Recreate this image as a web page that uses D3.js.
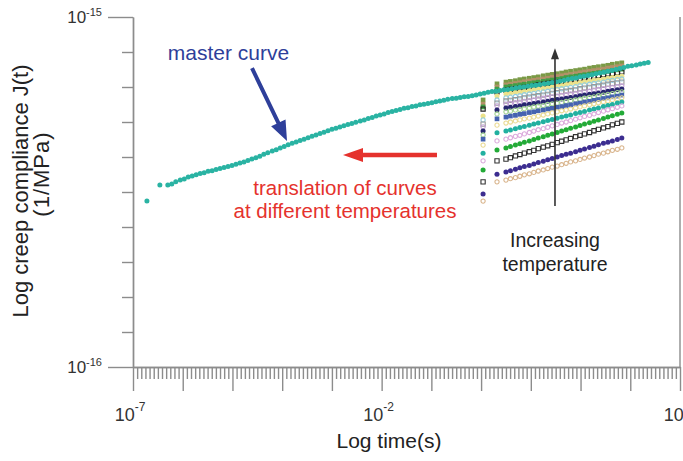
<!DOCTYPE html>
<html><head><meta charset="utf-8">
<script src="https://cdn.jsdelivr.net/npm/d3@7"></script>
<style>
body{margin:0;background:#fff;}
svg{display:block;}
text{font-family:"Liberation Sans",Arial,Helvetica,sans-serif;}
</style>
</head><body>
<svg id="chart" width="683" height="461"></svg>
<script>
// ---------- DATA (log10 values) ----------
// axis decades
const xDecades = [-7,-6,-5,-4,-3,-2,-1,0,1,2,3,4];
const yDecades = [-16,-15];
const xLabelDecades = [-7,-2,4];
const xLabelExps = ["-7","-2","4"];
const yLabelExps = ["-16","-15"];

// master curve: log10 time (s), log10 J (1/MPa)
const masterLogTime = [-6.72,-6.46,-6.30,-6.22,-6.14,-6.05,-5.97,-5.89,-5.81,-5.73,
-5.65,-5.57,-5.49,-5.41,-5.33,-5.25,-5.17,-5.09,-5.01,-4.93,
-4.85,-4.77,-4.69,-4.61,-4.53,-4.45,-4.37,-4.29,-4.20,-4.12,
-4.04,-3.96,-3.88,-3.80,-3.72,-3.64,-3.56,-3.48,-3.40,-3.32,
-3.24,-3.16,-3.08,-3.00,-2.92,-2.84,-2.76,-2.68,-2.60,-2.52,
-2.43,-2.35,-2.27,-2.19,-2.11,-2.03,-1.95,-1.87,-1.79,-1.71,
-1.63,-1.55,-1.47,-1.39,-1.31,-1.23,-1.15,-1.07,-0.99,-0.91,
-0.83,-0.75,-0.67,-0.58,-0.50,-0.42,-0.34,-0.26,-0.18,-0.10,
-0.02,0.06,0.14,0.22,0.30,0.38,0.46,0.54,0.62,0.70,
0.78,0.86,0.94,1.02,1.10,1.18,1.27,1.35,1.43,1.51,
1.59,1.67,1.75,1.83,1.91,1.99,2.07,2.15,2.23,2.31,
2.39,2.47,2.55,2.63,2.71,2.79,2.87,2.95,3.03,3.12,
3.20,3.28,3.36];
const masterLogJ = [-15.526,-15.480,-15.480,-15.477,-15.471,-15.466,-15.463,-15.457,-15.454,-15.451,
-15.447,-15.445,-15.441,-15.439,-15.436,-15.433,-15.430,-15.427,-15.424,-15.421,
-15.417,-15.414,-15.410,-15.406,-15.402,-15.398,-15.392,-15.388,-15.383,-15.379,
-15.374,-15.370,-15.365,-15.361,-15.357,-15.353,-15.349,-15.345,-15.341,-15.337,
-15.333,-15.329,-15.325,-15.321,-15.318,-15.314,-15.311,-15.307,-15.304,-15.301,
-15.297,-15.294,-15.290,-15.287,-15.283,-15.280,-15.277,-15.273,-15.270,-15.267,
-15.264,-15.261,-15.259,-15.256,-15.254,-15.251,-15.249,-15.247,-15.245,-15.242,
-15.240,-15.238,-15.235,-15.233,-15.232,-15.230,-15.228,-15.227,-15.225,-15.223,
-15.220,-15.218,-15.215,-15.213,-15.212,-15.210,-15.208,-15.207,-15.205,-15.203,
-15.201,-15.200,-15.198,-15.196,-15.195,-15.193,-15.191,-15.189,-15.187,-15.185,
-15.183,-15.181,-15.178,-15.176,-15.174,-15.171,-15.169,-15.167,-15.165,-15.162,
-15.160,-15.158,-15.155,-15.153,-15.150,-15.147,-15.144,-15.141,-15.139,-15.137,
-15.134,-15.132,-15.130];

// short-term creep tests at different temperatures (shared measurement times)
const testLogTime = [0.04,0.32,0.50,0.59,0.69,0.78,0.87,0.97,1.06,1.15,1.25,1.34,1.43,1.53,1.62,1.71,1.80,1.90,1.99,2.08,2.18,2.27,2.36,2.46,2.55,2.64,2.74,2.83];
const t01 = [-15.237,-15.191,-15.186,-15.184,-15.182,-15.179,-15.177,-15.175,-15.173,-15.171,-15.168,-15.166,-15.164,-15.162,-15.160,-15.157,-15.155,-15.153,-15.151,-15.149,-15.146,-15.144,-15.142,-15.140,-15.138,-15.135,-15.133,-15.131];
const t02 = [-15.249,-15.200,-15.194,-15.192,-15.190,-15.188,-15.185,-15.183,-15.181,-15.179,-15.177,-15.175,-15.172,-15.170,-15.168,-15.166,-15.164,-15.162,-15.159,-15.157,-15.155,-15.153,-15.151,-15.149,-15.146,-15.144,-15.142,-15.140];
const t03 = [-15.257,-15.206,-15.200,-15.198,-15.196,-15.194,-15.192,-15.190,-15.188,-15.186,-15.184,-15.182,-15.180,-15.178,-15.176,-15.173,-15.171,-15.169,-15.167,-15.165,-15.163,-15.161,-15.159,-15.157,-15.155,-15.153,-15.151,-15.149];
const t04 = [-15.263,-15.214,-15.209,-15.207,-15.205,-15.203,-15.201,-15.199,-15.197,-15.194,-15.192,-15.190,-15.188,-15.186,-15.184,-15.182,-15.180,-15.178,-15.176,-15.174,-15.172,-15.169,-15.167,-15.165,-15.163,-15.161,-15.159,-15.157];
const t05 = [-15.283,-15.226,-15.220,-15.218,-15.216,-15.214,-15.212,-15.210,-15.208,-15.206,-15.204,-15.202,-15.200,-15.198,-15.196,-15.193,-15.191,-15.189,-15.187,-15.185,-15.183,-15.181,-15.179,-15.177,-15.175,-15.173,-15.171,-15.169];
const t06 = [-15.294,-15.237,-15.231,-15.229,-15.227,-15.225,-15.222,-15.220,-15.218,-15.216,-15.214,-15.212,-15.209,-15.207,-15.205,-15.203,-15.201,-15.199,-15.196,-15.194,-15.192,-15.190,-15.188,-15.186,-15.183,-15.181,-15.179,-15.177];
const t07 = [-15.306,-15.246,-15.240,-15.238,-15.236,-15.234,-15.231,-15.229,-15.227,-15.225,-15.223,-15.221,-15.218,-15.216,-15.214,-15.212,-15.210,-15.208,-15.205,-15.203,-15.201,-15.199,-15.197,-15.195,-15.192,-15.190,-15.188,-15.186];
const t08 = [-15.314,-15.254,-15.249,-15.247,-15.245,-15.243,-15.241,-15.239,-15.237,-15.234,-15.232,-15.230,-15.228,-15.226,-15.224,-15.222,-15.220,-15.218,-15.216,-15.214,-15.212,-15.209,-15.207,-15.205,-15.203,-15.201,-15.199,-15.197];
const t09 = [-15.326,-15.266,-15.260,-15.258,-15.256,-15.254,-15.251,-15.249,-15.247,-15.245,-15.243,-15.241,-15.238,-15.236,-15.234,-15.232,-15.230,-15.228,-15.225,-15.223,-15.221,-15.219,-15.217,-15.215,-15.212,-15.210,-15.208,-15.206];
const t10 = [-15.337,-15.277,-15.271,-15.269,-15.266,-15.264,-15.262,-15.260,-15.257,-15.255,-15.253,-15.250,-15.248,-15.246,-15.244,-15.241,-15.239,-15.237,-15.235,-15.232,-15.230,-15.228,-15.225,-15.223,-15.221,-15.219,-15.216,-15.214];
const t11 = [-15.349,-15.291,-15.286,-15.283,-15.281,-15.278,-15.276,-15.273,-15.271,-15.268,-15.266,-15.263,-15.261,-15.258,-15.256,-15.253,-15.251,-15.248,-15.246,-15.243,-15.241,-15.238,-15.236,-15.233,-15.231,-15.228,-15.226,-15.223];
const t12 = [-15.366,-15.309,-15.303,-15.300,-15.297,-15.294,-15.291,-15.289,-15.286,-15.283,-15.280,-15.277,-15.274,-15.271,-15.268,-15.266,-15.263,-15.260,-15.257,-15.254,-15.251,-15.248,-15.245,-15.243,-15.240,-15.237,-15.234,-15.231];
const t13 = [-15.389,-15.331,-15.326,-15.323,-15.319,-15.316,-15.313,-15.309,-15.306,-15.303,-15.299,-15.296,-15.293,-15.289,-15.286,-15.283,-15.280,-15.276,-15.273,-15.270,-15.266,-15.263,-15.260,-15.256,-15.253,-15.250,-15.246,-15.243];
const t14 = [-15.411,-15.354,-15.349,-15.345,-15.341,-15.338,-15.334,-15.330,-15.326,-15.322,-15.319,-15.315,-15.311,-15.307,-15.303,-15.300,-15.296,-15.292,-15.288,-15.284,-15.281,-15.277,-15.273,-15.269,-15.265,-15.262,-15.258,-15.254];
const t15 = [-15.437,-15.380,-15.374,-15.370,-15.366,-15.362,-15.358,-15.354,-15.350,-15.346,-15.342,-15.338,-15.334,-15.330,-15.326,-15.322,-15.318,-15.314,-15.310,-15.306,-15.302,-15.298,-15.294,-15.290,-15.286,-15.282,-15.278,-15.274];
const t16 = [-15.471,-15.411,-15.406,-15.402,-15.397,-15.393,-15.389,-15.385,-15.381,-15.376,-15.372,-15.368,-15.364,-15.359,-15.355,-15.351,-15.347,-15.342,-15.338,-15.334,-15.330,-15.325,-15.321,-15.317,-15.313,-15.308,-15.304,-15.300];
const t17 = [-15.506,-15.449,-15.443,-15.439,-15.435,-15.431,-15.427,-15.424,-15.420,-15.416,-15.412,-15.408,-15.404,-15.400,-15.396,-15.392,-15.389,-15.385,-15.381,-15.377,-15.373,-15.369,-15.365,-15.361,-15.358,-15.354,-15.350,-15.346];
const t18 = [-15.526,-15.471,-15.466,-15.462,-15.459,-15.455,-15.451,-15.448,-15.444,-15.440,-15.437,-15.433,-15.429,-15.426,-15.422,-15.418,-15.414,-15.411,-15.407,-15.403,-15.400,-15.396,-15.392,-15.389,-15.385,-15.381,-15.378,-15.374];
const testSeries = [t01,t02,t03,t04,t05,t06,t07,t08,t09,t10,t11,t12,t13,t14,t15,t16,t17,t18];

// ---------- STYLES ----------
const seriesStyle = [
 {shape:"sq", fill:"#7a9a46", stroke:"none"},
 {shape:"sq", fill:"#b39068", stroke:"none"},
 {shape:"sq", fill:"#3f9e45", stroke:"none"},
 {shape:"sq", fill:"none", stroke:"#222"},
 {shape:"ci", fill:"#ece28a", stroke:"none"},
 {shape:"ci", fill:"none", stroke:"#92cde0"},
 {shape:"sq", fill:"none", stroke:"#9a9a9a"},
 {shape:"ci", fill:"none", stroke:"#c3a2d6"},
 {shape:"ci", fill:"#27276f", stroke:"none"},
 {shape:"ci", fill:"none", stroke:"#a3d494"},
 {shape:"sq", fill:"#4563b0", stroke:"none"},
 {shape:"ci", fill:"none", stroke:"#eadb95"},
 {shape:"ci", fill:"#22b0a0", stroke:"none"},
 {shape:"ci", fill:"none", stroke:"#dcaadc"},
 {shape:"ci", fill:"#23aa37", stroke:"none"},
 {shape:"sq", fill:"none", stroke:"#333"},
 {shape:"ci", fill:"#3c2d90", stroke:"none"},
 {shape:"ci", fill:"none", stroke:"#d9b58d"}
];

const svg = d3.select("#chart");
const x = d3.scaleLinear().domain([-7, 4]).range([133, 680]);
const y = d3.scaleLinear().domain([-16, -15]).range([367, 17]);
const axisColor = "#8c8c8c";

// ---------- AXES ----------
const xMinor = [];
xDecades.slice(0,-1).forEach(d => { for (let k = 1; k < 12; k++) xMinor.push(d + k/12); });
const yMinor = [];
for (let k = 1; k < 10; k++) yMinor.push(-16 + k/10);

function styleAxis(g){
  g.selectAll("path.domain").attr("stroke", axisColor).attr("stroke-width",1.4);
  g.selectAll(".tick line").attr("stroke", axisColor).attr("stroke-width",1.4);
  g.selectAll(".tick text").remove();
}
svg.append("g").attr("transform","translate(0,"+y(-16)+")")
  .call(d3.axisBottom(x).tickValues(xMinor).tickSize(12).tickSizeOuter(0).tickFormat(""))
  .call(styleAxis);
svg.append("g").attr("transform","translate(0,"+y(-16)+")")
  .call(d3.axisBottom(x).tickValues(xDecades).tickSize(24).tickSizeOuter(0).tickFormat(""))
  .call(styleAxis);
svg.append("g").attr("transform","translate("+x(-7)+",0)")
  .call(d3.axisLeft(y).tickValues(yMinor).tickSize(11).tickSizeOuter(0).tickFormat(""))
  .call(styleAxis);
svg.append("g").attr("transform","translate("+x(-7)+",0)")
  .call(d3.axisLeft(y).tickValues(yDecades).tickSize(25).tickSizeOuter(0).tickFormat(""))
  .call(styleAxis);
// right frame line
svg.append("line").attr("x1",x(4)).attr("x2",x(4)).attr("y1",y(-15)).attr("y2",y(-16))
  .attr("stroke",axisColor).attr("stroke-width",1.4);

// tick labels
xLabelDecades.forEach((v,i) => {
  const t = svg.append("text").attr("x", x(v)-3).attr("y", 421).attr("text-anchor","middle")
    .attr("fill","#333").style("font-size","18px");
  t.append("tspan").text("10");
  t.append("tspan").attr("dy",-10).style("font-size","12px").text(xLabelExps[i]);
});
yDecades.forEach((v,i) => {
  const t = svg.append("text").attr("x", 102).attr("y", y(v)+6).attr("text-anchor","end")
    .attr("fill","#333").style("font-size","17px");
  t.append("tspan").text("10");
  t.append("tspan").attr("dy",-7).style("font-size","11px").text(yLabelExps[i]);
});

// axis titles
svg.append("text").attr("x",389).attr("y",448).attr("text-anchor","middle")
  .attr("fill","#222").style("font-size","21px").text("Log time(s)");
svg.append("text").attr("transform","translate(28,191) rotate(-90)").attr("text-anchor","middle")
  .attr("fill","#222").style("font-size","22px").text("Log creep compliance J(t)");
svg.append("text").attr("transform","translate(49,174) rotate(-90)").attr("text-anchor","middle")
  .attr("fill","#222").style("font-size","22px").style("letter-spacing","1px").text("(1/MPa)");

// ---------- MARKS ----------
const sym = d3.symbol();
testSeries.forEach((vals,i) => {
  const st = seriesStyle[i];
  const g = svg.append("g");
  g.selectAll("path").data(vals).join("path")
    .attr("transform",(d,j)=>"translate("+x(testLogTime[j])+","+y(d)+")")
    .attr("d", st.shape==="sq" ? sym.type(d3.symbolSquare).size(st.fill==="none"?18:22)() : sym.type(d3.symbolCircle).size(st.fill==="none"?14:20)())
    .attr("fill", st.fill).attr("stroke", st.stroke).attr("stroke-width", st.stroke==="none"?0:1.1);
});
svg.append("g").selectAll("circle").data(masterLogJ).join("circle")
  .attr("cx",(d,i)=>x(masterLogTime[i])).attr("cy",d=>y(d)).attr("r",2.5)
  .attr("fill","#2ab3a3");

// ---------- ANNOTATIONS ----------
function arrow(x1,y1,x2,y2,w,hl,hw){
  const dx=x2-x1, dy=y2-y1, L=Math.hypot(dx,dy), ux=dx/L, uy=dy/L, px=-uy, py=ux;
  const bx=x2-ux*hl, by=y2-uy*hl;
  const p=[[x1+px*w/2,y1+py*w/2],[bx+px*w/2,by+py*w/2],[bx+px*hw,by+py*hw],[x2,y2],
           [bx-px*hw,by-py*hw],[bx-px*w/2,by-py*w/2],[x1-px*w/2,y1-py*w/2]];
  return "M"+p.map(q=>q.join(",")).join("L")+"Z";
}
// master curve label + arrow
svg.append("text").attr("x",x(-6.30)).attr("y",y(-15.123)).attr("fill","#2e3f9a")
  .style("font-size","21px").text("master curve");
svg.append("path").attr("d",arrow(x(-4.607),y(-15.146),x(-3.903),y(-15.354),4,20,8)).attr("fill","#2e3f9a");
// translation label + arrow
svg.append("path").attr("d",arrow(x(-0.887),y(-15.394),x(-2.777),y(-15.394),4.5,20,7)).attr("fill","#e5322d");
svg.append("text").attr("x",x(-2.737)).attr("y",y(-15.509)).attr("text-anchor","middle").attr("fill","#e5322d")
  .style("font-size","20.5px").text("translation of curves");
svg.append("text").attr("x",x(-2.737)).attr("y",y(-15.574)).attr("text-anchor","middle").attr("fill","#e5322d")
  .style("font-size","20.5px").text("at different temperatures");
// temperature arrow
svg.append("path").attr("d",arrow(x(1.486),y(-15.540),x(1.486),y(-15.089),1.6,11,4)).attr("fill","#333");
svg.append("text").attr("x",x(1.486)).attr("y",y(-15.657)).attr("text-anchor","middle").attr("fill","#222")
  .style("font-size","19.5px").text("Increasing");
svg.append("text").attr("x",x(1.486)).attr("y",y(-15.726)).attr("text-anchor","middle").attr("fill","#222")
  .style("font-size","19.5px").text("temperature");
</script>
</body></html>
